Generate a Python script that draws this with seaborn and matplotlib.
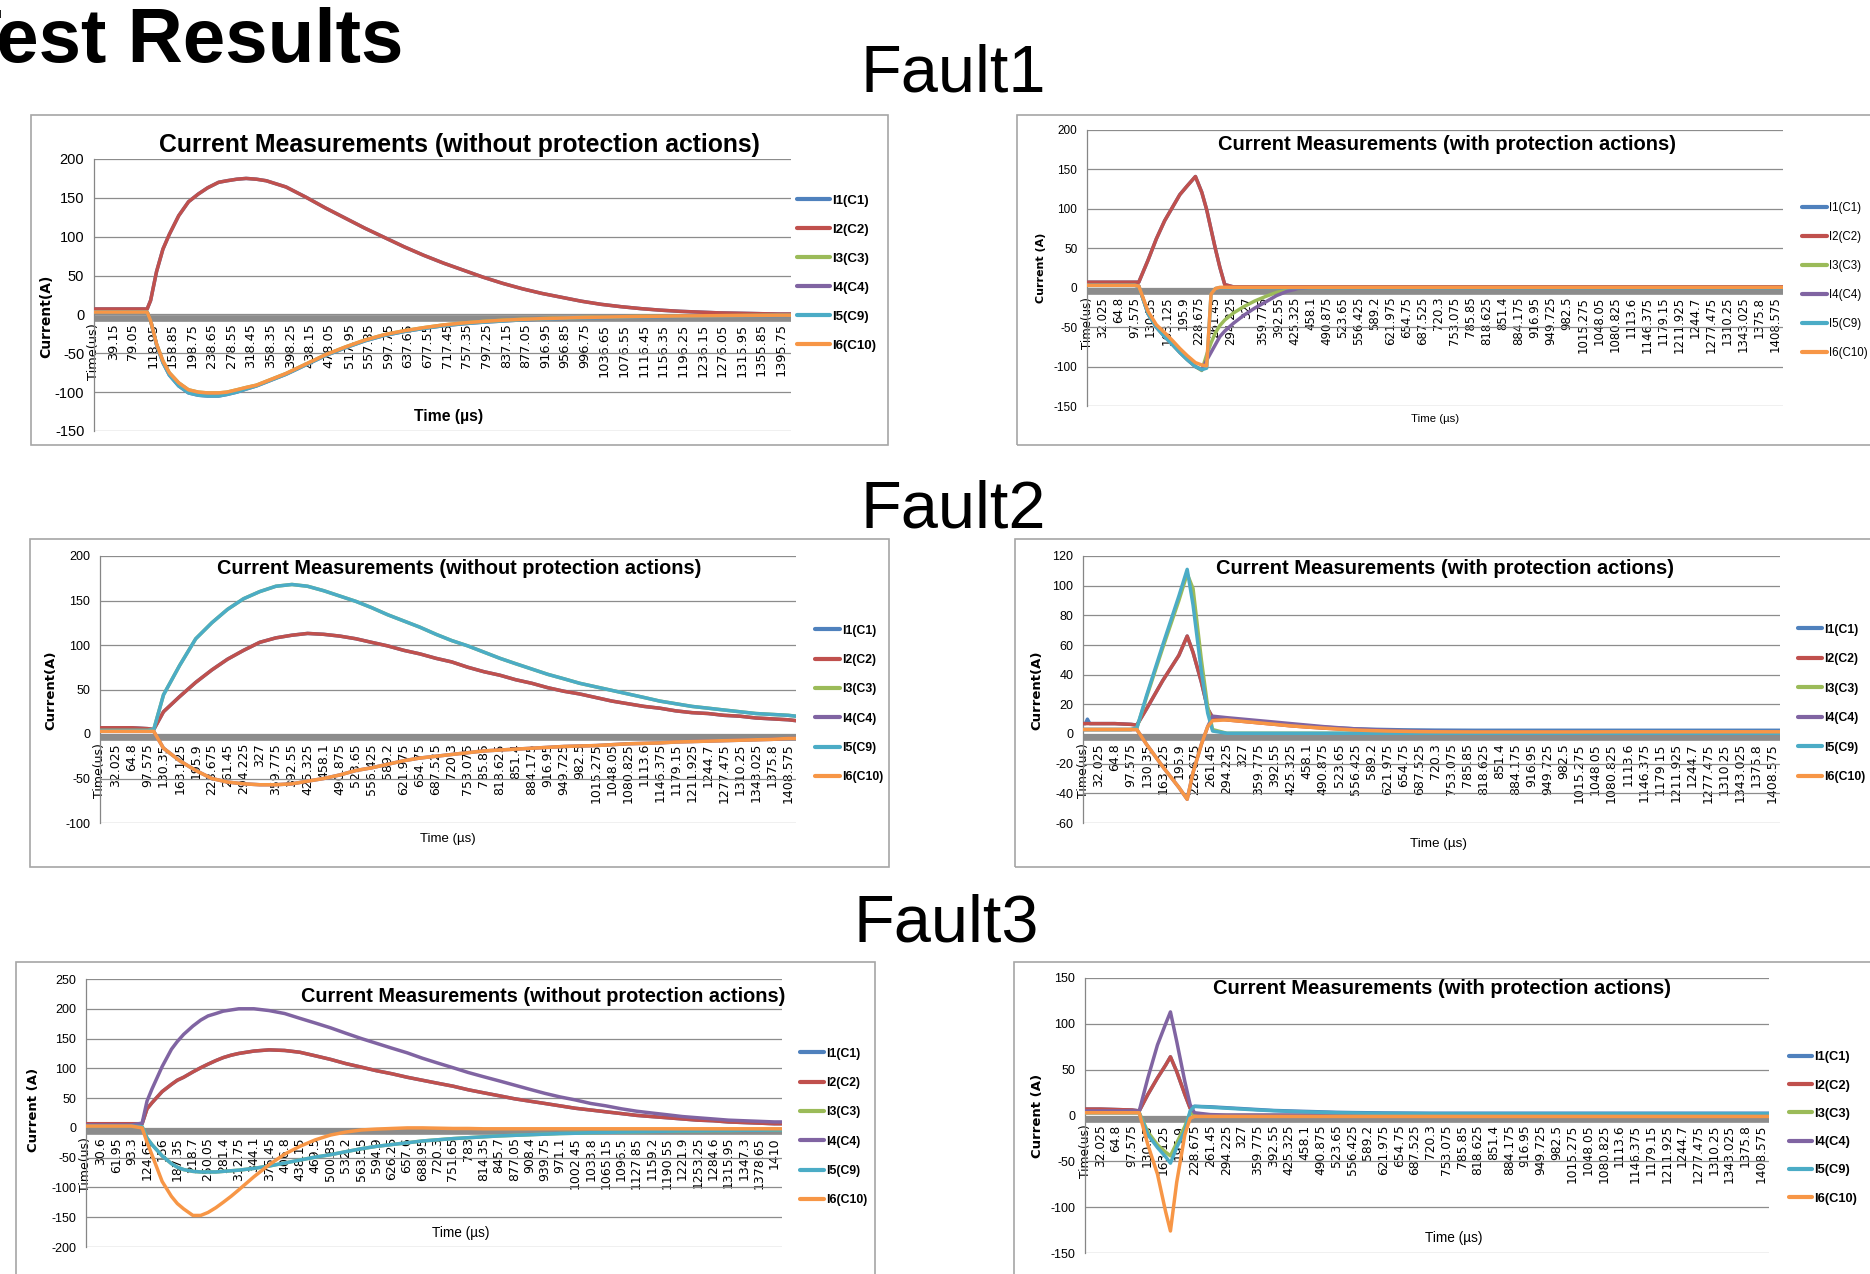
import matplotlib
matplotlib.use('Agg')
import matplotlib.pyplot as plt
import matplotlib.transforms as mtransforms
from matplotlib.lines import Line2D
from matplotlib.patches import Rectangle
import pandas as pd
import seaborn as sns

# series names and Excel default colours
series_names = ['I1(C1)', 'I2(C2)', 'I3(C3)', 'I4(C4)', 'I5(C9)', 'I6(C10)']
series_colors = ['#4F81BD', '#C0504D', '#9BBB59', '#8064A2', '#4BACC6', '#F79646']

# category labels shown on the time axis
labels_a = ['Time(us)', '39.15', '79.05', '118.95', '158.85', '198.75', '238.65', '278.55',
            '318.45', '358.35', '398.25', '438.15', '478.05', '517.95', '557.85', '597.75',
            '637.65', '677.55', '717.45', '757.35', '797.25', '837.15', '877.05', '916.95',
            '956.85', '996.75', '1036.65', '1076.55', '1116.45', '1156.35', '1196.25',
            '1236.15', '1276.05', '1315.95', '1355.85', '1395.75']
labels_b = ['Time(us)', '32.025', '64.8', '97.575', '130.35', '163.125', '195.9', '228.675',
            '261.45', '294.225', '327', '359.775', '392.55', '425.325', '458.1', '490.875',
            '523.65', '556.425', '589.2', '621.975', '654.75', '687.525', '720.3', '753.075',
            '785.85', '818.625', '851.4', '884.175', '916.95', '949.725', '982.5', '1015.275',
            '1048.05', '1080.825', '1113.6', '1146.375', '1179.15', '1211.925', '1244.7',
            '1277.475', '1310.25', '1343.025', '1375.8', '1408.575']
labels_c = ['Time(us)', '30.6', '61.95', '93.3', '124.65', '156', '187.35', '218.7', '250.05',
            '281.4', '312.75', '344.1', '375.45', '406.8', '438.15', '469.5', '500.85', '532.2',
            '563.55', '594.9', '626.25', '657.6', '688.95', '720.3', '751.65', '783', '814.35',
            '845.7', '877.05', '908.4', '939.75', '971.1', '1002.45', '1033.8', '1065.15',
            '1096.5', '1127.85', '1159.2', '1190.55', '1221.9', '1253.25', '1284.6', '1315.95',
            '1347.3', '1378.65', '1410']

# Fault1 - without protection
f1a_t = [0, 39, 79, 108, 115, 127, 140, 153, 172, 192, 212, 231, 253, 270, 290, 309, 330, 350,
         390, 430, 470, 510, 550, 590, 630, 670, 710, 750, 790, 830, 870, 910, 950, 990, 1030,
         1070, 1110, 1150, 1190, 1230, 1270, 1310, 1350, 1390, 1416]
f1a_i2 = [7, 7, 7, 7, 18, 55, 84, 103, 127, 145, 155, 163, 170, 172, 174, 175, 174, 172, 164,
          151, 137, 124, 111, 99, 87, 76, 66, 57, 48, 40, 33, 27, 22, 17, 13, 10, 7.5, 5.5, 4,
          3, 2, 1.5, 1, 0.5, 0.5]
f1a_i1 = list(f1a_i2)
f1a_i6 = [3, 3, 3, 3, -8, -38, -60, -75, -88, -97, -100, -101, -101, -100, -97, -94, -91, -86,
          -76, -64, -52, -42, -33, -26, -21, -17, -13.5, -11, -9, -7.5, -6.3, -5.4, -4.7, -4,
          -3.5, -3, -2.6, -2.3, -2, -1.8, -1.6, -1.4, -1.2, -1, -1]
f1a_i5 = [3, 3, 3, 3, -8, -39, -62, -78, -92, -101, -104, -105, -105, -103, -100, -96, -92, -87,
          -77, -65, -53, -43, -34, -27, -22, -18, -14.5, -12, -10, -8.5, -7, -6, -5.2, -4.5,
          -4, -3.5, -3, -2.7, -2.4, -2.1, -1.9, -1.7, -1.5, -1.3, -1.2]
f1a_i3 = list(f1a_i6)
f1a_i4 = list(f1a_i5)

# Fault1 - with protection
f1b_t = [0, 32, 65, 98, 106, 125, 142, 159, 175, 190, 205, 222, 235, 245, 254, 263, 272, 282,
         300, 321, 343, 366, 388, 410, 433, 460, 500, 600, 700, 800, 900, 1000, 1100, 1200,
         1300, 1400, 1425]
f1b_i2 = [7, 7, 7, 7, 7, 35, 62, 85, 102, 118, 129, 141, 121, 99, 74, 49, 26, 4, 1, 1, 1, 1, 1,
          1, 1, 1, 1, 1, 1, 1, 1, 1, 1, 1, 1, 1, 1]
f1b_i1 = list(f1b_i2)
f1b_i3 = [3, 3, 3, 3, 2, -33, -50, -62, -72, -82, -91, -100, -105, -85, -70, -57, -48, -41, -32,
          -24, -17, -11, -6, -3, -1, 0, 0, 0, 0, 0, 0, 0, 0, 0, 0, 0, 0]
f1b_i4 = [3, 3, 3, 3, 2, -33, -50, -62, -72, -82, -91, -100, -104, -92, -82, -72, -62, -55, -45,
          -35, -26, -18, -10, -4.5, -1, 0, 0, 0, 0, 0, 0, 0, 0, 0, 0, 0, 0]
f1b_i5 = [3, 3, 3, 3, 2, -33, -50, -62, -72, -82, -91, -100, -104, -102, -8, -1, 0, 0, 0, 0, 0,
          0, 0, 0, 0, 0, 0, 0, 0, 0, 0, 0, 0, 0, 0, 0, 0]
f1b_i6 = [3, 3, 3, 3, 2, -30, -47, -57, -67, -77, -86, -95, -98, -99, -8, -1, 0.5, 0.5, 0.5,
          0.5, 0.5, 0.5, 0.5, 0.5, 0.5, 0.5, 0.5, 0.5, 0.5, 0.5, 0.5, 0.5, 0.5, 0.5, 0.5, 0.5,
          0.5]

# Fault2 - without protection
f2a_t = [0, 32, 65, 98, 110, 130, 163, 196, 229, 261, 294, 327, 360, 393, 425, 458, 491, 524,
         556, 589, 622, 655, 688, 720, 753, 786, 819, 851, 884, 917, 950, 982, 1015, 1048, 1081,
         1114, 1146, 1179, 1212, 1245, 1277, 1310, 1343, 1376, 1409, 1425]
f2a_i5 = [4, 4, 4, 4, 5, 44, 77, 107, 125, 140, 152, 160, 166, 168, 166, 161, 155, 149, 142,
          134, 127, 120, 112, 105, 99, 92, 85, 79, 73, 67, 62, 57, 53, 49, 45, 41, 37, 34, 31,
          29, 27, 25, 23, 22, 21, 20]
f2a_i3 = list(f2a_i5)
f2a_i2 = [7, 7, 7, 6, 5, 25, 42, 58, 72, 84, 94, 103, 108, 111, 113, 112, 110, 107, 103, 99, 94,
          90, 85, 81, 75, 70, 66, 61, 57, 52, 48, 45, 41, 37, 34, 31, 29, 26, 24, 23, 21, 20,
          18, 17, 16, 15]
f2a_i1 = list(f2a_i2)
f2a_i6 = [3, 3, 3, 3, 3, -16, -30, -41, -50, -54, -56, -57, -57, -56, -53, -50, -46, -41, -38,
          -34, -30, -27, -25, -23, -21, -19, -18, -17, -16, -15, -14, -13.5, -13, -12, -11,
          -10.5, -10, -9, -8.5, -8, -7.5, -7, -6.5, -6, -5, -5]
f2a_i4 = list(f2a_i6)

# Fault2 - with protection
f2b_t = [0, 5, 9, 14, 32, 65, 98, 110, 130, 163, 196, 213, 225, 242, 255, 265, 294, 327, 360,
         393, 425, 458, 491, 524, 556, 589, 622, 655, 688, 720, 800, 900, 1000, 1100, 1200,
         1300, 1409, 1425]
f2b_i1 = [7, 7, 10, 7, 7, 7, 6.5, 6, 17, 36, 53, 66, 55, 35, 17, 11, 10, 9, 8, 7, 6, 5.2, 4.6,
          4, 3.5, 3.2, 3, 2.8, 2.7, 2.6, 2.5, 2.5, 2.5, 2.5, 2.5, 2.5, 2.5, 2.5]
f2b_i2 = [7, 7, 7, 7, 7, 7, 6.5, 6, 17, 36, 53, 66, 55, 35, 17, 11, 9.5, 8.5, 7.5, 6.5, 5.5,
          4.7, 4, 3.4, 2.8, 2.4, 2, 1.8, 1.6, 1.5, 1.5, 1.5, 1.5, 1.5, 1.5, 1.5, 1.5, 1.5]
f2b_i3 = [3, 3, 3, 3, 3, 3, 3, 4, 25, 58, 90, 108, 98, 50, 18, 3, 0.5, 0.5, 0.5, 0.5, 0.5, 0.5,
          0.5, 0.5, 0.5, 0.5, 0.5, 0.5, 0.5, 0.5, 0.5, 0.5, 0.5, 0.5, 0.5, 0.5, 0.5, 0.5]
f2b_i4 = [3, 3, 3, 3, 3, 3, 3, 3, -7, -22, -36, -44, -26, -7, 5, 12, 11, 10, 9, 8, 7, 6, 5, 4.2,
          3.5, 3, 2.6, 2.3, 2, 1.8, 1.6, 1.5, 1.5, 1.5, 1.5, 1.5, 1.5, 1.5]
f2b_i5 = [3, 3, 3, 3, 3, 3, 3, 4, 26, 60, 93, 111, 87, 42, 14, 2, 0.5, 0.5, 0.5, 0.5, 0.5, 0.5,
          0.5, 0.5, 0.5, 0.5, 0.5, 0.5, 0.5, 0.5, 0.5, 0.5, 0.5, 0.5, 0.5, 0.5, 0.5, 0.5]
f2b_i6 = [3, 3, 3, 3, 3, 3, 3, 3, -7, -22, -36, -44, -26, -7, 5, 9, 9.5, 8.5, 7.5, 6.5, 5.5,
          4.7, 4, 3.3, 2.7, 2.3, 2, 1.8, 1.6, 1.5, 1.4, 1.4, 1.4, 1.5, 1.5, 1.5, 1.5, 1.5]

# Fault3 - without protection
f3a_t = [0, 31, 62, 93, 115, 125, 135, 156, 175, 187, 200, 219, 235, 250, 266, 281, 297, 313,
         344, 375, 407, 438, 470, 501, 532, 564, 595, 626, 658, 689, 720, 752, 783, 814, 846,
         877, 908, 940, 971, 1002, 1034, 1065, 1097, 1128, 1159, 1191, 1222, 1253, 1285, 1316,
         1347, 1379, 1410, 1425]
f3a_i4 = [5, 5, 5, 5, 8, 45, 65, 103, 132, 145, 157, 171, 181, 188, 192, 196, 198, 200, 200,
          197, 192, 184, 176, 168, 159, 150, 142, 134, 126, 117, 109, 101, 93, 86, 79, 72, 65,
          58, 52, 47, 41, 37, 32, 28, 25, 22, 19, 17, 15, 13, 12, 11, 10, 10]
f3a_i2 = [7, 7, 7, 7, 7, 32, 42, 61, 73, 80, 85, 94, 101, 107, 113, 118, 122, 125, 129, 131,
          130, 127, 121, 115, 108, 102, 96, 91, 85, 80, 75, 70, 64, 59, 54, 49, 45, 41, 37, 33,
          30, 27, 24, 21, 19, 17, 15, 13, 12, 10, 9, 8, 7, 7]
f3a_i1 = list(f3a_i2)
f3a_i6 = [3, 3, 3, 3, 0, -24, -45, -90, -115, -127, -136, -147, -147, -142, -134, -125, -115,
          -104, -82, -62, -44, -31, -20, -12, -7, -3.5, -2, -1, 0, 0, -0.5, -1, -1, -1.5, -1.5,
          -1.5, -1.5, -1.5, -1.5, -1.5, -1.5, -1.5, -1.5, -1.5, -1.5, -1.5, -1.5, -1.5, -1.5,
          -1.5, -1.5, -1.5, -1.5, -1.5]
f3a_i5 = [3, 3, 3, 3, 2, -17, -28, -47, -60, -66, -70, -73, -74, -74, -74, -73, -72, -71, -68,
          -64, -59, -54, -49, -45, -40, -35, -31, -28, -25, -22, -20, -18, -16.5, -15, -13.5,
          -12.5, -11.5, -10.5, -9.5, -9, -8, -7.5, -7, -6.5, -6, -5.5, -5, -5, -4.5, -4.5, -4,
          -4, -3.5, -3.5]
f3a_i3 = list(f3a_i5)

# Fault3 - with protection
f3b_t = [0, 32, 65, 98, 113, 131, 151, 168, 178, 191, 208, 219, 228, 261, 294, 327, 360, 393,
         425, 458, 491, 524, 556, 589, 622, 655, 688, 720, 800, 900, 1000, 1100, 1200, 1300,
         1409, 1425]
f3b_i1 = [7, 7, 6.5, 6, 5, 23, 41, 55, 64, 48, 23, 8, 10, 9.5, 8.5, 7.5, 6.5, 5.5, 5, 4.5, 4,
          3.5, 3.2, 3, 2.8, 2.7, 2.6, 2.5, 2.5, 2.5, 2.5, 2.5, 2.5, 2.5, 2.5, 2.5]
f3b_i2 = [7, 7, 6.5, 6, 5, 23, 41, 55, 64, 48, 23, 8, 0, 0, 0, 0, 0, 0, 0, 0, 0, 0, 0, 0, 0, 0,
          0, 0, 0, 0, 0, 0, 0, 0, 0, 0]
f3b_i3 = [3, 3, 3, 3, 3, -18, -32, -40, -44, -30, -12, 3, 0, 0, 0, 0, 0, 0, 0, 0, 0, 0, 0, 0, 0,
          0, 0, 0, 0, 0, 0, 0, 0, 0, 0, 0]
f3b_i4 = [5, 5, 5, 5, 5, 41, 77, 100, 113, 81, 37, 12, 3, 1, 0.5, 0.5, 0.5, 0.5, 0.5, 0.5, 0.5,
          0.5, 0.5, 0.5, 0.5, 0.5, 0.5, 0.5, 0.5, 0.5, 0.5, 0.5, 0.5, 0.5, 0.5, 0.5]
f3b_i5 = [3, 3, 3, 3, 3, -21, -35, -45, -52, -35, -17, 5, 10, 9, 8, 7, 6, 5.2, 4.5, 4, 3.5, 3,
          2.8, 2.5, 2.3, 2.2, 2.1, 2, 2, 2, 2, 2, 2, 2, 2, 2]
f3b_i6 = [3, 3, 3, 3, 3, -32, -64, -105, -126, -73, -21, -3, -1, -1, -1, -1, -1, -1, -1, -1, -1,
          -1, -1, -1, -1, -1, -1, -1, -1, -1, -1, -1, -1, -1, -1, -1]

title_wo = 'Current Measurements (without protection actions)'
title_w = 'Current Measurements (with protection actions)'

# layout of the six charts in pixels of the 1870x1274 slide
panels = [
    dict(t=f1a_t, vals=[f1a_i1, f1a_i2, f1a_i3, f1a_i4, f1a_i5, f1a_i6], cats=labels_a,
         xend=1415.7, ylim=(-150, 200), ystep=50,
         frame=(31, 115, 888, 445), box=(94, 159, 791, 431),
         title=title_wo, title_at=(459, 145), title_size=17.8,
         xlab_at=(449, 417), xlab_size=11.3, xlab_weight='bold',
         ylab='Current(A)', ylab_at=(46, 316), ylab_size=10,
         leg_at=(797, 273), leg_size=9.5, leg_weight='bold', leg_len=33, leg_gap=29.2,
         ytick=('Liberation Sans', 10.5), xtick=('DejaVu Sans', 9.3)),
    dict(t=f1b_t, vals=[f1b_i1, f1b_i2, f1b_i3, f1b_i4, f1b_i5, f1b_i6], cats=labels_b,
         xend=1425, ylim=(-150, 200), ystep=50,
         frame=(1017, 115, 1880, 445), box=(1087, 130, 1783, 406),
         title=title_w, title_at=(1447, 144), title_size=14.5,
         xlab_at=(1435, 419), xlab_size=8.2, xlab_weight='normal',
         ylab='Current (A)', ylab_at=(1041, 268), ylab_size=8,
         leg_at=(1802, 280.5), leg_size=8.3, leg_weight='normal', leg_len=25, leg_gap=27.8,
         ytick=('Liberation Sans', 8.5), xtick=('DejaVu Sans', 8.5)),
    dict(t=f2a_t, vals=[f2a_i1, f2a_i2, f2a_i3, f2a_i4, f2a_i5, f2a_i6], cats=labels_b,
         xend=1425, ylim=(-100, 200), ystep=50,
         frame=(30, 539, 889, 867), box=(100, 556, 796, 823),
         title=title_wo, title_at=(459, 569), title_size=14.3,
         xlab_at=(448, 839), xlab_size=9.5, xlab_weight='normal',
         ylab='Current(A)', ylab_at=(51, 690), ylab_size=9.5,
         leg_at=(815, 704), leg_size=8.8, leg_weight='bold', leg_len=25, leg_gap=28.8,
         ytick=('Liberation Sans', 9), xtick=('DejaVu Sans', 9)),
    dict(t=f2b_t, vals=[f2b_i1, f2b_i2, f2b_i3, f2b_i4, f2b_i5, f2b_i6], cats=labels_b,
         xend=1425, ylim=(-60, 120), ystep=20,
         frame=(1015, 539, 1880, 867), box=(1083, 556, 1780, 823),
         title=title_w, title_at=(1445, 569), title_size=14.5,
         xlab_at=(1438, 844), xlab_size=9.7, xlab_weight='normal',
         ylab='Current(A)', ylab_at=(1037, 690), ylab_size=9.5,
         leg_at=(1798, 703.5), leg_size=8.8, leg_weight='bold', leg_len=24, leg_gap=29,
         ytick=('Liberation Sans', 9), xtick=('DejaVu Sans', 9)),
    dict(t=f3a_t, vals=[f3a_i1, f3a_i2, f3a_i3, f3a_i4, f3a_i5, f3a_i6], cats=labels_c,
         xend=1425.7, ylim=(-200, 250), ystep=50,
         frame=(16, 962, 875, 1290), box=(86, 979, 782, 1247),
         title=title_wo, title_at=(543, 996), title_size=14.3,
         xlab_at=(461, 1233), xlab_size=9.8, xlab_weight='normal',
         ylab='Current (A)', ylab_at=(33, 1110), ylab_size=9.5,
         leg_at=(800, 1127), leg_size=8.8, leg_weight='bold', leg_len=24, leg_gap=28.8,
         ytick=('Liberation Sans', 9), xtick=('DejaVu Sans', 9)),
    dict(t=f3b_t, vals=[f3b_i1, f3b_i2, f3b_i3, f3b_i4, f3b_i5, f3b_i6], cats=labels_b,
         xend=1425, ylim=(-150, 150), ystep=50,
         frame=(1014, 962, 1880, 1290), box=(1085, 978, 1769, 1253),
         title=title_w, title_at=(1442, 989), title_size=14.5,
         xlab_at=(1454, 1238), xlab_size=9.8, xlab_weight='normal',
         ylab='Current (A)', ylab_at=(1037, 1116), ylab_size=9.5,
         leg_at=(1789, 1128), leg_size=9.3, leg_weight='bold', leg_len=23, leg_gap=28.4,
         ytick=('Liberation Sans', 9), xtick=('DejaVu Sans', 8.8)),
]

W, H = 1870, 1274
sns.set_theme(style='white')
plt.rcParams['font.family'] = ['Liberation Sans', 'DejaVu Sans']
plt.rcParams['text.color'] = 'black'
plt.rcParams['xtick.color'] = 'black'
plt.rcParams['ytick.color'] = 'black'
fig = plt.figure(figsize=(W / 100, H / 100), dpi=100)
fig.patch.set_facecolor('white')


def fx(px):
    return px / W


def fy(py):
    return 1 - py / H


def long_table(t, vals):
    rows = []
    for name, series in zip(series_names, vals):
        assert len(series) == len(t), name
        for ti, v in zip(t, series):
            rows.append((ti, v, name))
    return pd.DataFrame(rows, columns=['Time (us)', 'Current (A)', 'Series'])


sans = 'Liberation Sans'

# slide headings
fig.text(fx(403), fy(62), 'Test Results', ha='right', va='baseline',
         family=sans, weight='bold', fontsize=55)
for label, x, y in [('Fault1', 953, 91), ('Fault2', 953, 527), ('Fault3', 946, 942)]:
    fig.text(fx(x), fy(y), label, ha='center', va='baseline', family=sans, fontsize=48)

for p in panels:
    l, t, r, b = p['frame']
    fig.add_artist(Rectangle((fx(l), fy(b)), (r - l) / W, (b - t) / H,
                             transform=fig.transFigure, fill=False,
                             edgecolor='#a6a6a6', linewidth=1.2))
    l, t, r, b = p['box']
    ax = fig.add_axes([fx(l), fy(b), (r - l) / W, (b - t) / H])

    df = long_table(p['t'], p['vals'])
    sns.lineplot(data=df, x='Time (us)', y='Current (A)', hue='Series',
                 hue_order=series_names, palette=series_colors, linewidth=2.5,
                 errorbar=None, legend=False, ax=ax, zorder=3)
    ax.set_xlabel('')
    ax.set_ylabel('')

    # category axis crosses at zero (set before the ticks: it resets them)
    ax.spines['bottom'].set_position(('data', 0))
    ax.spines['bottom'].set_linewidth(0)
    ax.spines['top'].set_visible(False)
    ax.spines['right'].set_visible(False)
    ax.spines['left'].set_color('#868686')
    ax.spines['left'].set_linewidth(0.9)

    ymin, ymax = p['ylim']
    ax.set_xlim(0, p['xend'])
    ax.set_ylim(ymin, ymax)
    yt = list(range(ymin, ymax + 1, p['ystep']))
    ax.set_yticks(yt)
    ax.set_yticklabels([str(v) for v in yt], family=p['ytick'][0], fontsize=p['ytick'][1])
    ax.tick_params(axis='y', length=4, width=0.8, color='#868686', pad=3, direction='out')

    cat_pos = [0.0] + [float(s) for s in p['cats'][1:]]
    ax.set_xticks(cat_pos)
    ax.set_xticklabels(p['cats'], rotation=90, family=p['xtick'][0], fontsize=p['xtick'][1])
    ax.tick_params(axis='x', length=0, pad=6.5)
    ax.grid(axis='y', color='#8c8c8c', linewidth=0.9)
    ax.grid(axis='x', visible=False)
    ax.set_axisbelow(True)

    # thick grey horizontal axis line just under zero
    band_tr = mtransforms.offset_copy(ax.get_yaxis_transform(), fig=fig, y=-3.2, units='dots')
    ax.plot([0, 1], [0, 0], transform=band_tr, color='#8c8c8c', linewidth=4.8,
            solid_capstyle='butt', zorder=2.6)

    fig.text(fx(p['title_at'][0]), fy(p['title_at'][1]), p['title'], ha='center',
             va='center', family=sans, weight='bold', fontsize=p['title_size'])
    fig.text(fx(p['xlab_at'][0]), fy(p['xlab_at'][1]), 'Time (µs)', ha='center',
             va='center', family=sans, weight=p['xlab_weight'], fontsize=p['xlab_size'])
    fig.text(fx(p['ylab_at'][0]), fy(p['ylab_at'][1]), p['ylab'], ha='center',
             va='center', rotation=90, family='DejaVu Sans', weight='bold',
             fontsize=p['ylab_size'])

    fs_px = p['leg_size'] * 100 / 72
    handles = [Line2D([], [], color=c, linewidth=3) for c in series_colors]
    ax.legend(handles, series_names, loc='center left',
              bbox_to_anchor=(fx(p['leg_at'][0]), fy(p['leg_at'][1])),
              bbox_transform=fig.transFigure, frameon=False, borderpad=0,
              borderaxespad=0, handlelength=p['leg_len'] / fs_px,
              handletextpad=2 / fs_px,
              labelspacing=(p['leg_gap'] - 0.94 * fs_px) / fs_px,
              prop=dict(family=sans, size=p['leg_size'], weight=p['leg_weight']))

fig.savefig('out.png', dpi=100, facecolor='white')
